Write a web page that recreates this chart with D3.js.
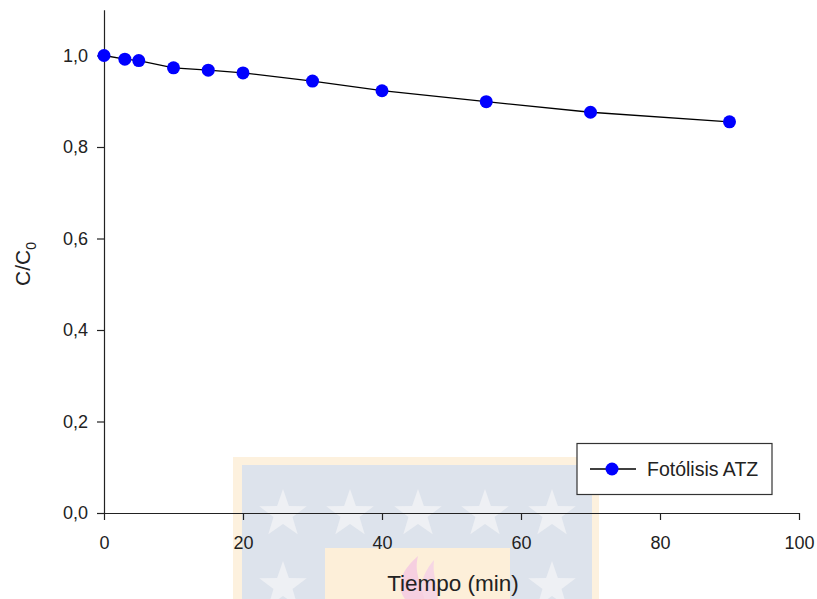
<!DOCTYPE html>
<html>
<head>
<meta charset="utf-8">
<script src="https://cdn.jsdelivr.net/npm/d3@7/dist/d3.min.js"></script>
<style>
  html, body { margin: 0; padding: 0; background: #fff; }
  svg { display: block; font-family: "Liberation Sans", Arial, sans-serif; }
</style>
</head>
<body>
<svg id="chart" width="817" height="599"></svg>
<script>
// ---- data ----
const times = [0, 3, 5, 10, 15, 20, 30, 40, 55, 70, 90];
const ratio = [1.0, 0.992, 0.989, 0.973, 0.968, 0.962, 0.944, 0.923, 0.899, 0.876, 0.855];
const seriesName = "Fotólisis ATZ";
const xTicks = [0, 20, 40, 60, 80, 100];
const yTicks = [0, 0.2, 0.4, 0.6, 0.8, 1.0];

const svg = d3.select("#chart");

// ---- watermark (background decoration) ----
const wm = svg.append("g");
wm.append("rect").attr("x", 233).attr("y", 457).attr("width", 366).attr("height", 150).attr("fill", "#fdf1de");
wm.append("rect").attr("x", 242).attr("y", 465).attr("width", 350).attr("height", 140).attr("fill", "#dde3ec");
function starPath(cx, cy, R) {
  const r = R * 0.4;
  const pts = [];
  for (let i = 0; i < 10; i++) {
    const a = -Math.PI / 2 + i * Math.PI / 5;
    const rr = i % 2 === 0 ? R : r;
    pts.push([cx + rr * Math.cos(a), cy + rr * Math.sin(a)]);
  }
  return "M" + pts.map(p => p.join(",")).join("L") + "Z";
}
[283, 350, 418, 485, 552].forEach(cx => {
  wm.append("path").attr("d", starPath(cx, 514, 25)).attr("fill", "#eef0f4");
});
[283, 552].forEach(cx => {
  wm.append("path").attr("d", starPath(cx, 586, 25)).attr("fill", "#eef0f4");
});
wm.append("rect").attr("x", 325).attr("y", 548).attr("width", 185).attr("height", 60).attr("fill", "#fdefd9");
wm.append("path").attr("d", "M405,599 C395,585 402,570 418,556 C414,572 420,580 425,599 Z").attr("fill", "#f6cfe0");
wm.append("path").attr("d", "M425,599 C418,585 424,572 434,560 C432,575 438,585 438,599 Z").attr("fill", "#f6d6e4");

// ---- scales ----
const x = d3.scaleLinear().domain([0, 100]).range([104, 799]);
const y = d3.scaleLinear().domain([0, 1.1]).range([513, 9.75]);

const fmt = d => d3.format(".1f")(d).replace(".", ",");

// axes
const gx = svg.append("g").attr("transform", `translate(0,${y(0)})`)
  .call(d3.axisBottom(x).tickValues(xTicks).tickSize(7).tickSizeOuter(0).tickPadding(16).tickFormat(d3.format("d")));
const gy = svg.append("g").attr("transform", `translate(${x(0)},0)`)
  .call(d3.axisLeft(y).tickValues(yTicks).tickSize(7).tickSizeOuter(0).tickPadding(9).tickFormat(fmt));
[gx, gy].forEach(g => {
  g.select(".domain").attr("stroke", "#222").attr("stroke-width", 1.2);
  g.selectAll(".tick line").attr("stroke", "#222").attr("stroke-width", 1.2);
  g.selectAll(".tick text").attr("fill", "#222").style("font-size", "18px").style("font-family", "Liberation Sans, Arial, sans-serif");
});

// titles
svg.append("text").attr("x", 453).attr("y", 591).attr("text-anchor", "middle")
  .style("font-size", "22.5px").attr("fill", "#222").text("Tiempo (min)");
const yt = svg.append("text").attr("transform", "translate(30,264) rotate(-90)")
  .attr("text-anchor", "middle").style("font-size", "21px").attr("fill", "#222");
yt.append("tspan").text("C/C");
yt.append("tspan").attr("dy", 6).style("font-size", "14px").text("0");

// line + points
const pts = times.map((t, i) => [t, ratio[i]]);
svg.append("path").datum(pts)
  .attr("fill", "none").attr("stroke", "#000").attr("stroke-width", 1.3)
  .attr("d", d3.line().x(d => x(d[0])).y(d => y(d[1])));
svg.append("g").selectAll("circle").data(pts).join("circle")
  .attr("cx", d => x(d[0])).attr("cy", d => y(d[1])).attr("r", 6.5)
  .attr("fill", "#0000ff");

// legend
const lg = svg.append("g");
lg.append("rect").attr("x", 577).attr("y", 443.5).attr("width", 195).attr("height", 51)
  .attr("fill", "#fff").attr("stroke", "#333").attr("stroke-width", 1.2);
lg.append("line").attr("x1", 590).attr("x2", 636).attr("y1", 469).attr("y2", 469)
  .attr("stroke", "#000").attr("stroke-width", 1.3);
lg.append("circle").attr("cx", 612).attr("cy", 469).attr("r", 6.5).attr("fill", "#0000ff");
lg.append("text").attr("x", 647).attr("y", 476).style("font-size", "19.5px").attr("fill", "#222").text(seriesName);
</script>
</body>
</html>
